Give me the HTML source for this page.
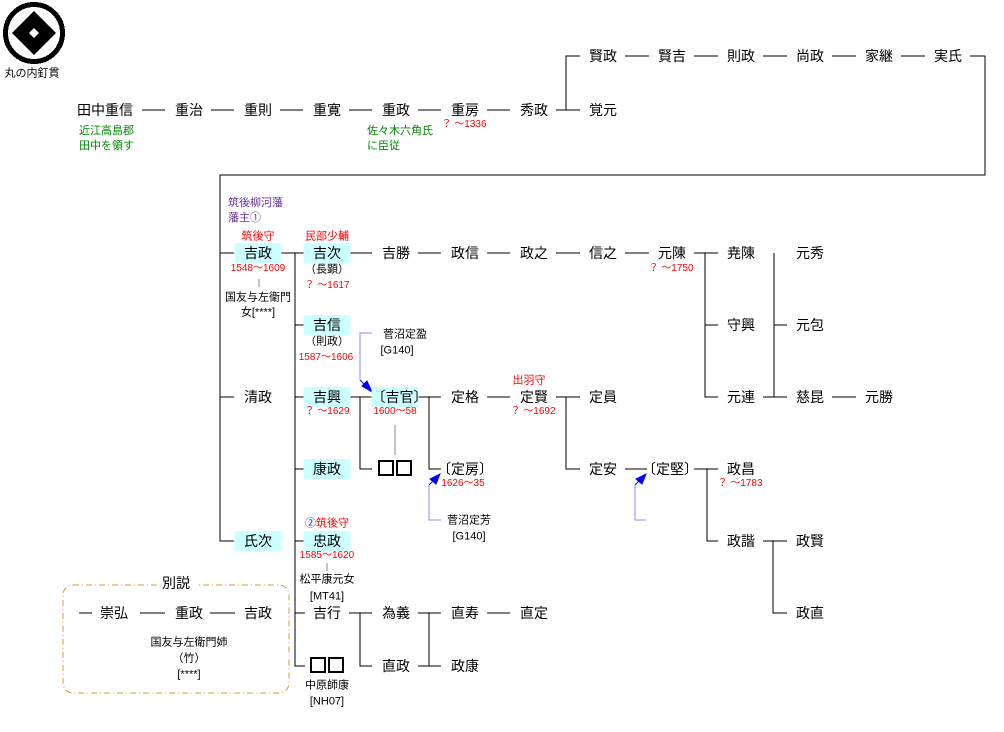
<!DOCTYPE html>
<html><head><meta charset="utf-8"><style>
body{margin:0;background:#fff;}
#c{position:relative;width:1004px;height:732px;overflow:hidden;font-family:"Liberation Sans","Noto Sans CJK JP",sans-serif;}
.t{position:absolute;transform:translate(-50%,-50%);white-space:nowrap;font-size:14px;color:#000;line-height:1;}
.b{background:#ccffff;padding:3px 0;width:47px;text-align:center;}
.r{color:#f00;font-size:10px;}
.s{font-size:11px;}
.g{color:#080;font-size:11px;position:absolute;line-height:15px;}
.p{color:#639;font-size:11px;position:absolute;line-height:15px;}
.q{display:inline-block;width:12px;height:12px;border:2px solid #000;margin:0 1px;}
svg{position:absolute;left:0;top:0;}
</style></head><body><div id="c">
<svg width="1004" height="732">
<g stroke="#000" stroke-width="1" fill="none" shape-rendering="crispEdges">
<circle cx="34" cy="33" r="28.5" stroke-width="5"/>
<path d="M142 110H165M211 110H234M280 110H303M349 110H372M418 110H441M487 110H510M556 110H580"/>
<path d="M580 56H566V110"/>
<path d="M625 56H649M694 56H718M763 56H787M832 56H856M901 56H925"/>
<path d="M970 56H985V175H220V541H234"/>
<path d="M220 253H234M220 397H234"/>
<path d="M281 253H305M295 253V666H305M295 325H305M295 397H305M295 469H305M295 541H305M295 613H305"/>
<path d="M349 253H372M418 253H441M487 253H510M556 253H580M625 253H649"/>
<path d="M694 253H718M705 253V397H718M705 325H718"/>
<path d="M763 397H787M774 253V397H787M774 325H787"/>
<path d="M832 397H856"/>
<path d="M349 397H372M360 397V469H372"/>
<path d="M418 397H441M429 397V469H441"/>
<path d="M487 397H510M556 397H580M566 397V469H580"/>
<path d="M625 469H647M694 469H718M707 469V541H718"/>
<path d="M763 541H787M773 541V613H787"/>
<path d="M349 613H372M360 613V666H372M418 666H441M429 613V666H441M418 613H441M487 613H510"/>
<path d="M79 613H92M140 613H165M210 613H235"/>
</g>
<g fill="#000"><path d="M34 11L56 33L34 55L12 33Z"/></g>
<g fill="#fff"><path d="M34 28L39 33L34 38L29 33Z"/></g>
<g stroke="#888" shape-rendering="crispEdges"><path d="M259 279V287M395 425V455M327 563V571M196 637V645"/></g>
<g stroke="#88f" fill="none" shape-rendering="crispEdges"><path d="M372 333H360V380M441 520H429V485M646 520H635V485"/></g>
<g stroke="#00f" fill="#00f"><path d="M360 380L368 388"/><path d="M372 392L362 386L367 381Z"/>
<path d="M429 485L436 478"/><path d="M440 474L436 484L430 479Z"/>
<path d="M635 485L642 478"/><path d="M646 474L642 484L636 479Z"/></g>
<rect x="63" y="585" width="226" height="108" rx="10" fill="none" stroke="#c8a030" stroke-dasharray="6,3,1,3"/>
<rect x="160" y="576" width="36" height="14" fill="#fff"/>
</svg>
<div class="t s" style="left:32px;top:74px">丸の内釘貫</div>
<div class="t" style="left:105px;top:110px">田中重信</div>
<div class="t" style="left:189px;top:110px">重治</div>
<div class="t" style="left:258px;top:110px">重則</div>
<div class="t" style="left:327px;top:110px">重寛</div>
<div class="t" style="left:396px;top:110px">重政</div>
<div class="t" style="left:465px;top:110px">重房</div>
<div class="t" style="left:534px;top:110px">秀政</div>
<div class="t" style="left:603px;top:110px">覚元</div>
<div class="t" style="left:603px;top:56px">賢政</div>
<div class="t" style="left:672px;top:56px">賢吉</div>
<div class="t" style="left:741px;top:56px">則政</div>
<div class="t" style="left:810px;top:56px">尚政</div>
<div class="t" style="left:879px;top:56px">家継</div>
<div class="t" style="left:948px;top:56px">実氏</div>
<div class="g" style="left:79px;top:124px">近江高島郡<br>田中を領す</div>
<div class="g" style="left:367px;top:124px">佐々木六角氏<br>に臣従</div>
<div class="t r" style="left:464px;top:125px">？ ～1336</div>
<div class="p" style="left:228px;top:196px">筑後柳河藩<br>藩主①</div>
<div class="t r" style="left:258px;top:237px;font-size:11px">筑後守</div>
<div class="t r" style="left:327px;top:237px;font-size:11px">民部少輔</div>
<div class="t b" style="left:258px;top:253px">吉政</div>
<div class="t r" style="left:258px;top:269px">1548～1609</div>
<div class="t s" style="left:258px;top:298px">国友与左衛門</div>
<div class="t s" style="left:258px;top:313px">女[****]</div>
<div class="t" style="left:258px;top:397px">清政</div>
<div class="t b" style="left:258px;top:541px">氏次</div>
<div class="t b" style="left:327px;top:253px">吉次</div>
<div class="t s" style="left:327px;top:270px">（長顕）</div>
<div class="t r" style="left:327px;top:286px">？ ～1617</div>
<div class="t b" style="left:327px;top:325px">吉信</div>
<div class="t s" style="left:327px;top:342px">（則政）</div>
<div class="t r" style="left:326px;top:358px">1587～1606</div>
<div class="t b" style="left:327px;top:397px">吉興</div>
<div class="t r" style="left:327px;top:412px">？ ～1629</div>
<div class="t b" style="left:327px;top:469px">康政</div>
<div class="t r" style="left:327px;top:524px;font-size:11px"><span style="color:#33a">②</span>筑後守</div>
<div class="t b" style="left:327px;top:541px">忠政</div>
<div class="t r" style="left:327px;top:556px">1585～1620</div>
<div class="t s" style="left:327px;top:580px">松平康元女</div>
<div class="t s" style="left:327px;top:597px">[MT41]</div>
<div class="t" style="left:327px;top:613px">吉行</div>
<div class="t" style="left:327px;top:666px"><span class="q"></span><span class="q"></span></div>
<div class="t s" style="left:327px;top:686px">中原師康</div>
<div class="t s" style="left:327px;top:702px">[NH07]</div>
<div class="t" style="left:396px;top:253px">吉勝</div>
<div class="t" style="left:465px;top:253px">政信</div>
<div class="t" style="left:534px;top:253px">政之</div>
<div class="t" style="left:603px;top:253px">信之</div>
<div class="t" style="left:672px;top:253px">元陳</div>
<div class="t r" style="left:671px;top:269px">？ ～1750</div>
<div class="t" style="left:741px;top:253px">尭陳</div>
<div class="t" style="left:741px;top:325px">守興</div>
<div class="t" style="left:741px;top:397px">元連</div>
<div class="t" style="left:810px;top:253px">元秀</div>
<div class="t" style="left:810px;top:325px">元包</div>
<div class="t" style="left:810px;top:397px">慈昆</div>
<div class="t" style="left:879px;top:397px">元勝</div>
<div class="t s" style="left:405px;top:335px">菅沼定盈</div>
<div class="t s" style="left:397px;top:351px">[G140]</div>
<div class="t b" style="left:395px;top:397px">〔吉官〕</div>
<div class="t r" style="left:395px;top:412px">1600～58</div>
<div class="t" style="left:395px;top:469px"><span class="q"></span><span class="q"></span></div>
<div class="t" style="left:465px;top:397px">定格</div>
<div class="t r" style="left:529px;top:381px;font-size:11px">出羽守</div>
<div class="t" style="left:534px;top:397px">定賢</div>
<div class="t r" style="left:533px;top:412px">？ ～1692</div>
<div class="t" style="left:603px;top:397px">定員</div>
<div class="t" style="left:465px;top:469px">〔定房〕</div>
<div class="t r" style="left:463px;top:484px">1626～35</div>
<div class="t s" style="left:469px;top:521px">菅沼定芳</div>
<div class="t s" style="left:469px;top:537px">[G140]</div>
<div class="t" style="left:603px;top:469px">定安</div>
<div class="t" style="left:670px;top:469px">〔定堅〕</div>
<div class="t" style="left:741px;top:469px">政昌</div>
<div class="t r" style="left:740px;top:484px">？ ～1783</div>
<div class="t" style="left:741px;top:541px">政諧</div>
<div class="t" style="left:810px;top:541px">政賢</div>
<div class="t" style="left:810px;top:613px">政直</div>
<div class="t" style="left:396px;top:613px">為義</div>
<div class="t" style="left:396px;top:666px">直政</div>
<div class="t" style="left:465px;top:613px">直寿</div>
<div class="t" style="left:465px;top:666px">政康</div>
<div class="t" style="left:534px;top:613px">直定</div>
<div class="t" style="left:176px;top:583px">別説</div>
<div class="t" style="left:114px;top:613px">崇弘</div>
<div class="t" style="left:189px;top:613px">重政</div>
<div class="t" style="left:258px;top:613px">吉政</div>
<div class="t s" style="left:189px;top:643px">国友与左衛門姉</div>
<div class="t s" style="left:189px;top:659px">（竹）</div>
<div class="t s" style="left:189px;top:675px">[****]</div>
</div></body></html>
